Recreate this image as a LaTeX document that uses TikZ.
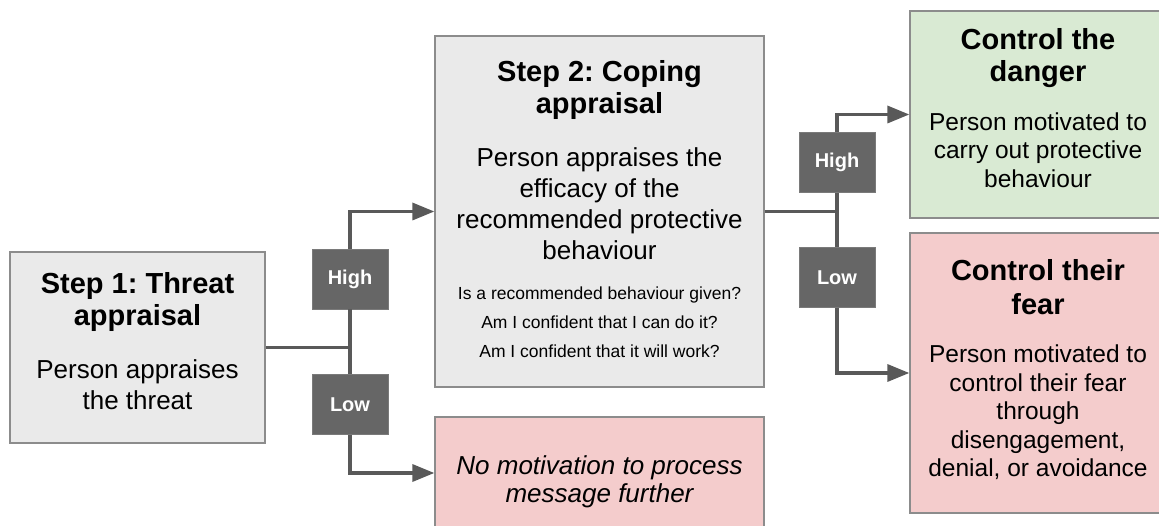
\documentclass[tikz,border=0pt]{standalone}
\usepackage{fontspec}
\setmainfont{Liberation Sans}
\usetikzlibrary{arrows.meta,positioning}
\frenchspacing

\definecolor{boxgray}{HTML}{EAEAEA}
\definecolor{edgegray}{HTML}{8C8C8C}
\definecolor{taggray}{HTML}{666666}
\definecolor{tagedge}{HTML}{7A7A7A}
\definecolor{linegray}{HTML}{595959}
\definecolor{okgreen}{HTML}{D9EAD3}
\definecolor{badred}{HTML}{F4CCCC}

\newcommand\headtxt{\fontsize{29}{32}\selectfont\bfseries}
\newcommand\bodytxt{\fontsize{26}{31}\selectfont}
\newcommand\sidetxt{\fontsize{24.5}{28.5}\selectfont}
\newcommand\smalltxt{\fontsize{17.5}{29}\selectfont}
% extra room under the text, lifts it inside its box
\newcommand\padbelow[1]{\par\nointerlineskip\vskip#1\hbox{}}

\begin{document}
\begin{tikzpicture}[x=1pt,y=-1pt,
    box/.style={draw=edgegray,line width=1.3pt,align=flush center,inner sep=0pt},
    tag/.style={fill=taggray,draw=tagedge,line width=0.8pt,text=white,
        font=\fontsize{20}{24}\selectfont\bfseries,
        minimum width=76pt,minimum height=60pt,inner sep=0pt},
    link/.style={draw=linegray,line width=3.4pt},
    >={Triangle[length=22pt,width=17pt]}]
    \useasboundingbox (0,0) rectangle (1159,526);

    % appraisal boxes
    \node[box,fill=boxgray,minimum width=255pt,minimum height=191pt,text width=250pt] (threat) at (137.5,347.5)
        {{\headtxt Step 1: Threat\\appraisal\par}\vspace{22pt}{\bodytxt Person appraises\\the threat\par}\padbelow{12pt}};
    \node[box,fill=boxgray,minimum width=329pt,minimum height=351pt,text width=324pt] (coping) at (599.5,211.5)
        {{\headtxt Step 2: Coping\\appraisal\par}\vspace{22pt}{\bodytxt Person appraises the\\efficacy of the\\recommended protective\\behaviour\par}\vspace{11pt}{\smalltxt Is a recommended behaviour given?\\Am I confident that I can do it?\\Am I confident that it will work?\par}\padbelow{4pt}};

    % outcomes
    \node[box,fill=badred,minimum width=329pt,minimum height=130pt,text width=324pt] (nomot) at (599.5,482)
        {{\fontsize{26}{28}\selectfont\itshape No motivation to process\\message further\par}};
    \node[box,fill=okgreen,minimum width=256pt,minimum height=207pt,text width=250pt] (danger) at (1038,114.5)
        {{\headtxt Control the\\danger\par}\vspace{20pt}{\sidetxt Person motivated to\\carry out protective\\behaviour\par}\padbelow{13pt}};
    \node[box,fill=badred,minimum width=256pt,minimum height=280pt,text width=250pt] (fear) at (1038,373)
        {{\fontsize{29}{33.5}\selectfont\bfseries Control their\\fear\par}\vspace{20pt}{\sidetxt Person motivated to\\control their fear\\through\\disengagement,\\denial, or avoidance\par}\padbelow{6pt}};

    % high / low tags
    \node[tag] (high1) at (350,279) {High};
    \node[tag] (low1) at (350,404.5) {Low};
    \node[tag] (high2) at (837,162.5) {High};
    \node[tag] (low2) at (837,277.5) {Low};

    \coordinate (j1) at (high1 |- threat.east);
    \coordinate (j2) at (high2 |- coping.east);

    \draw[link] (threat.east) -- (j1) -- (high1.south);
    \draw[link] (j1) -- (low1.north);
    \draw[link,->] (high1.north) |- (coping.west);
    \draw[link,->] (low1.south) |- ([yshift=9pt]nomot.west);

    \draw[link] (coping.east) -- (j2) -- (high2.south);
    \draw[link] (j2) -- (low2.north);
    \draw[link,->] (high2.north) |- (danger.west);
    \draw[link,->] (low2.south) |- (fear.west);
\end{tikzpicture}
\end{document}
